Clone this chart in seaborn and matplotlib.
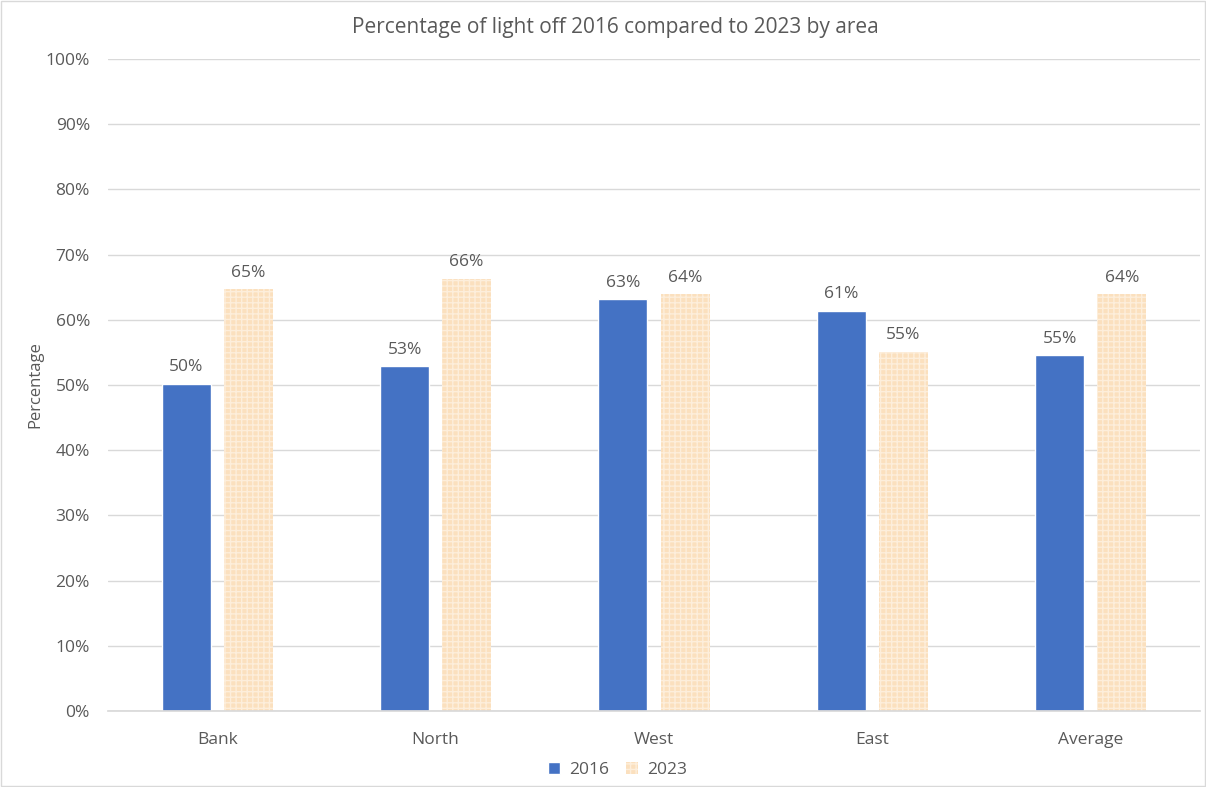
import pandas as pd
import numpy as np
import seaborn as sns
import matplotlib.pyplot as plt
from matplotlib.ticker import PercentFormatter

areas = ['Bank', 'North', 'West', 'East', 'Average']
years = ['2016', '2023']
values_2016 = [50.2, 52.9, 63.2, 61.4, 54.6]
values_2023 = [64.7, 66.3, 63.9, 55.1, 63.9]

df = pd.DataFrame({
    'area': areas * 2,
    'year': [years[0]] * len(areas) + [years[1]] * len(areas),
    'value': values_2016 + values_2023,
})

sns.set_theme(style='white')
plt.rcParams['font.family'] = ['Open Sans', 'DejaVu Sans']
plt.rcParams['hatch.linewidth'] = 1.0
text_col = '#595959'

fig = plt.figure(figsize=(12.06, 7.87), dpi=100)
ax = fig.add_axes([108 / 1206, 1 - 711 / 787, (1200 - 108) / 1206, (711 - 59) / 787])

sns.barplot(data=df, x='area', y='value', hue='year', ax=ax,
            palette=['#4472C4', '#FBE0BE'], width=0.568, gap=0.21,
            saturation=1, errorbar=None, legend=False)

# gingham look for 2023 bars
for bar in ax.containers[1]:
    bar.set_hatch('+++')
    bar.set_edgecolor('#FDEEDB')
    bar.set_linewidth(0)

for cont in ax.containers:
    ax.bar_label(cont, labels=[f'{v:.0f}%' for v in cont.datavalues],
                 padding=6, fontsize=12.5, color=text_col)

ax.set_ylim(0, 100)
ax.set_yticks(np.arange(0, 101, 10))
ax.yaxis.set_major_formatter(PercentFormatter(decimals=0))
ax.grid(axis='y', color='#D9D9D9', linewidth=1)
ax.set_axisbelow(True)
for s in ['top', 'right', 'left']:
    ax.spines[s].set_visible(False)
ax.spines['bottom'].set_color('#D9D9D9')
ax.tick_params(axis='both', length=0, labelsize=12.5, labelcolor=text_col)
ax.tick_params(axis='y', pad=13)
ax.tick_params(axis='x', pad=15)
ax.set_xlabel('')
ax.set_ylabel('Percentage', fontsize=12, color=text_col)
ax.yaxis.set_label_coords(-0.059, 0.5)

fig.text(615 / 1206, 1 - 27 / 787, 'Percentage of light off 2016 compared to 2023 by area',
         ha='center', va='center', fontsize=15, color=text_col)

handles = [ax.containers[0][0], ax.containers[1][0]]
fig.legend(handles=handles, labels=years, loc='center', bbox_to_anchor=(0.512, 1 - 770 / 787),
           ncol=2, frameon=False, fontsize=12.5, labelcolor=text_col,
           handlelength=0.7, handleheight=0.7, handletextpad=0.5, columnspacing=1.0)

fig.patches.append(plt.Rectangle((0.001, 0.001), 0.998, 0.998, transform=fig.transFigure,
                                 fill=False, edgecolor='#D9D9D9', linewidth=1))

fig.savefig('out.png', dpi=100)
